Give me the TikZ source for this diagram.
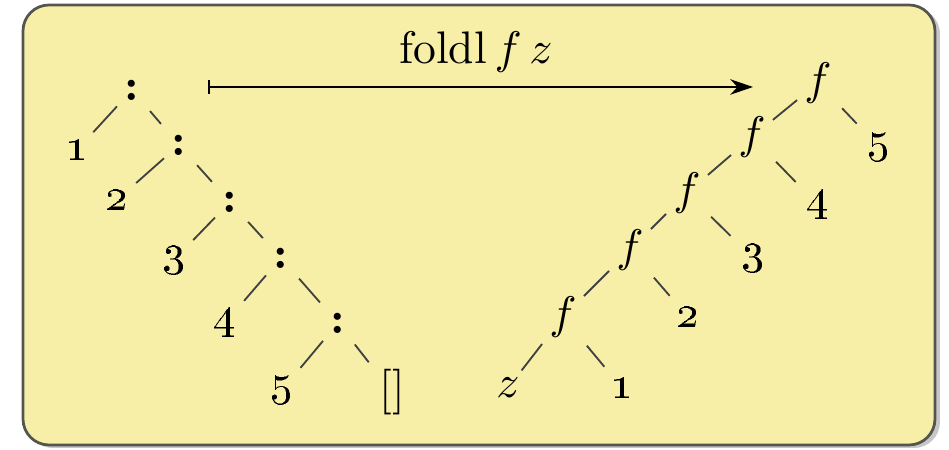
\documentclass[tikz,border=0pt]{standalone}
\usepackage{amsmath}
\usepackage{tikz}
\usetikzlibrary{arrows.meta}
\definecolor{foldbg}{RGB}{247,238,168}
\definecolor{foldrule}{RGB}{85,85,80}

\begin{document}
\begin{tikzpicture}[>=Stealth, x=0.77cm, y=0.77cm,
    cons/.style={inner sep=1.5pt, font=\bfseries},
    leaf/.style={inner sep=1.5pt},
    app/.style={inner sep=1.4pt},
    branch/.style={draw=black!75, thin, shorten <=1pt, shorten >=1pt}]
  \useasboundingbox (0,0) rectangle (9.49,4.50);
  % panel, with a soft shadow on the lower right
  \fill[black!22, rounded corners=0.2cm] (0.27,0.02) rectangle (9.40,4.42);
  \filldraw[fill=foldbg, draw=foldrule, semithick, rounded corners=0.2cm] (0.23,0.05) rectangle (9.35,4.45);
  % ---------------------------------------------------------------- the list 1:2:3:4:5:[]
  \node[cons] (c1) at (1.32,3.60) {:};
  \node[leaf] (l1) at (0.77,3.00) {\oldstylenums{1}};
  \node[cons] (c2) at (1.79,3.05) {:};
  \node[leaf] (l2) at (1.17,2.50) {\oldstylenums{2}};
  \node[cons] (c3) at (2.30,2.48) {:};
  \node[leaf] (l3) at (1.74,1.90) {\oldstylenums{3}};
  \node[cons] (c4) at (2.81,1.92) {:};
  \node[leaf] (l4) at (2.25,1.27) {\oldstylenums{4}};
  \node[cons] (c5) at (3.38,1.27) {:};
  \node[leaf] (l5) at (2.82,0.60) {\oldstylenums{5}};
  \node[leaf] (nil) at (3.92,0.58) {[]};
  \draw[branch] (c1) -- (l1) (c1) -- (c2);
  \draw[branch] (c2) -- (l2) (c2) -- (c3);
  \draw[branch] (c3) -- (l3) (c3) -- (c4);
  \draw[branch] (c4) -- (l4) (c4) -- (c5);
  \draw[branch] (c5) -- (l5) (c5) -- (nil);
  % ---------------------------------------------------------------- the fold
  \coordinate (from) at (2.08,3.63);
  \coordinate (to) at (7.53,3.63);
  \draw[{Bar[width=3pt]}-{Stealth[length=5pt,width=3.4pt]}, thin] (from) -- (to);
  \node (fold) at (4.76,3.98) {foldl\,$f\,z$};
  % ---------------------------------------------------------------- f (f (f (f (f z 1) 2) 3) 4) 5
  \node[app] (f1) at (8.18,3.67) {$f$};
  \node[leaf] (r5) at (8.79,3.03) {\oldstylenums{5}};
  \node[app] (f2) at (7.52,3.13) {$f$};
  \node[leaf] (r4) at (8.18,2.45) {\oldstylenums{4}};
  \node[app] (f3) at (6.87,2.57) {$f$};
  \node[leaf] (r3) at (7.53,1.92) {\oldstylenums{3}};
  \node[app] (f4) at (6.30,2.00) {$f$};
  \node[leaf] (r2) at (6.88,1.33) {\oldstylenums{2}};
  \node[app] (f5) at (5.63,1.33) {$f$};
  \node[leaf] (r1) at (6.22,0.62) {\oldstylenums{1}};
  \node[leaf] (z) at (5.08,0.62) {$z$};
  \draw[branch] (f1) -- (f2) (f1) -- (r5);
  \draw[branch] (f2) -- (f3) (f2) -- (r4);
  \draw[branch] (f3) -- (f4) (f3) -- (r3);
  \draw[branch] (f4) -- (f5) (f4) -- (r2);
  \draw[branch] (f5) -- (z) (f5) -- (r1);
\end{tikzpicture}
\end{document}
